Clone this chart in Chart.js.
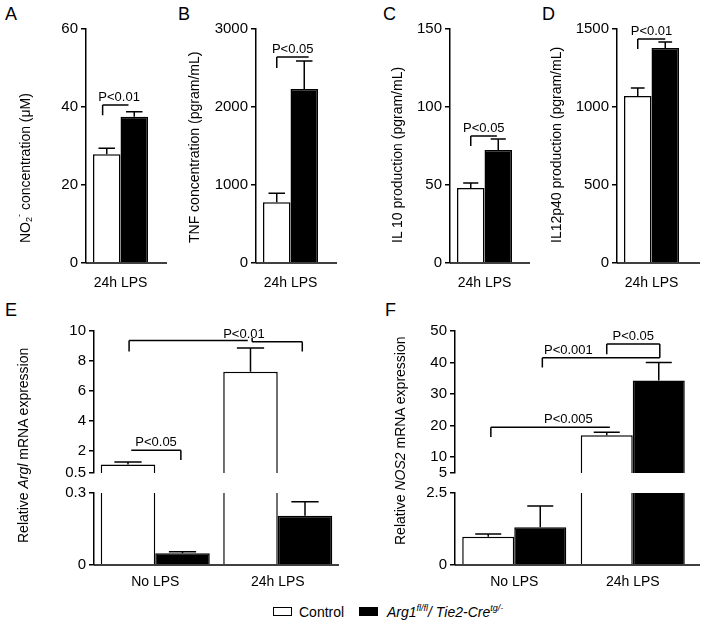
<!DOCTYPE html>
<html>
<head>
<meta charset="utf-8">
<script src="https://cdn.jsdelivr.net/npm/chart.js@4.4.1/dist/chart.umd.min.js"></script>
<style>
  body { margin: 0; background: #fff; }
  #fig { position: relative; width: 703px; height: 625px; overflow: hidden; font-family: "Liberation Sans", Arial, sans-serif; color: #000; }
  .panel { position: absolute; }
  .letter { position: absolute; font-size: 18px; line-height: 18px; }
  .ytitle { position: absolute; width: 16px; height: 260px; line-height: 16px; font-size: 14px;
            writing-mode: vertical-rl; transform: rotate(180deg); white-space: nowrap; z-index: 2; }
  .ytitle sub, .ytitle sup, #legend sup { font-size: 9px; line-height: 0; }
  #legend sup { vertical-align: baseline; position: relative; top: -0.7em; }
  .lbox { position: absolute; width: 19px; height: 9px; box-sizing: border-box; border: 1.5px solid #000; }
  .ltext { position: absolute; font-size: 14px; line-height: 16px; white-space: nowrap; }
</style>
</head>
<body>
<div id="fig">
  <div class="letter" style="left:5px; top:5px">A</div>
  <div class="letter" style="left:178px; top:5px">B</div>
  <div class="letter" style="left:383px; top:5px">C</div>
  <div class="letter" style="left:542px; top:5px">D</div>
  <div class="letter" style="left:5px; top:301px">E</div>
  <div class="letter" style="left:385px; top:301px">F</div>

  <div class="ytitle" style="left:17px; top:-17px">NO<sub>2</sub><sup>-</sup> concentration (&mu;M)</div>
  <div class="ytitle" style="left:186px; top:-17px">TNF concentration (pgram/mL)</div>
  <div class="ytitle" style="left:389px; top:-17px">IL 10 production (pgram/mL)</div>
  <div class="ytitle" style="left:548px; top:-17px">IL12p40 production (pgram/mL)</div>
  <div class="ytitle" style="left:15px; top:283px">Relative <i>Argl</i> mRNA expression</div>
  <div class="ytitle" style="left:392px; top:285px">Relative <i>NOS2</i> mRNA expression</div>

  <div id="legend">
    <div class="lbox" id="box0" style="left:273px; top:607px"></div>
    <div class="ltext" style="left:299px; top:604px">Control</div>
    <div class="lbox" id="box1" style="left:359px; top:607px"></div>
    <div class="ltext" style="left:387px; top:604px"><i>Arg1</i><sup><i>fl/fl</i></sup><i>/ Tie2-Cre</i><sup><i>tg/-</i></sup></div>
  </div>
</div>

<script>
Chart.defaults.font.family = '"Liberation Sans", Arial, sans-serif';
Chart.defaults.color = '#000';

// categories
const groupsTop = ['24h LPS'];
const groupsBottom = ['No LPS', '24h LPS'];
const seriesNames = ['Control', 'Arg1fl/fl / Tie2-Cretg/-'];
const seriesFill = ['#ffffff', '#000000'];

// A: NO2- concentration (uM)
const no2Ctrl = [27.9];
const no2CtrlSem = [1.5];
const no2Ko = [37.5];
const no2KoSem = [1.3];

// B: TNF (pgram/mL)
const tnfCtrl = [780];
const tnfCtrlSem = [115];
const tnfKo = [2230];
const tnfKoSem = [360];

// C: IL 10 (pgram/mL)
const il10Ctrl = [48.1];
const il10CtrlSem = [3.2];
const il10Ko = [72.4];
const il10KoSem = [7.1];

// D: IL12p40 (pgram/mL)
const il12Ctrl = [1071];
const il12CtrlSem = [51];
const il12Ko = [1378];
const il12KoSem = [38];

// E: relative Arg1 mRNA (No LPS, 24h LPS)
const argCtrl = [1.07, 7.27];
const argCtrlSem = [0.17, 1.6];
const argKo = [0.049, 0.205];
const argKoSem = [0.006, 0.059];

// F: relative NOS2 mRNA (No LPS, 24h LPS)
const nosCtrl = [0.98, 17.0];
const nosCtrlSem = [0.10, 0.9];
const nosKo = [1.31, 34.3];
const nosKoSem = [0.74, 5.7];

// tick labels
const ticksA = [0, 20, 40, 60];
const ticksB = [0, 1000, 2000, 3000];
const ticksC = [0, 50, 100, 150];
const ticksD = [0, 500, 1000, 1500];
const ticksEHigh = [0.5, 2, 4, 6, 8, 10];
const ticksELow = [0, 0.3];
const ticksFHigh = [5, 10, 20, 30, 40, 50];
const ticksFLow = [0, 2.5];

document.getElementById('box0').style.background = seriesFill[0];
document.getElementById('box1').style.background = seriesFill[1];

// error bars (upper only), significance brackets and baseline, one plugin per panel
function marksFor(p) {
    return {
        id: 'marks',
        afterDatasetsDraw(chart) {
            const ctx = chart.ctx;
            const area = chart.chartArea;
            const y = chart.scales.y;
            ctx.save();
            ctx.strokeStyle = '#000';
            ctx.lineWidth = 1.5;

            if (p.showX) {
                ctx.beginPath();
                ctx.moveTo(area.left, area.bottom);
                ctx.lineTo(area.right + (p.baseExt || 0), area.bottom);
                ctx.stroke();
            }

            ctx.save();
            ctx.beginPath();
            ctx.rect(area.left, area.top - 1, area.right - area.left, area.bottom - area.top + 1);
            ctx.clip();
            const errs = [p.ctrlErr, p.koErr];
            const vals = [p.ctrl, p.ko];
            errs.forEach((list, i) => {
                const meta = chart.getDatasetMeta(i);
                list.forEach((e, j) => {
                    const bar = meta.data[j];
                    if (!bar) return;
                    const top = y.getPixelForValue(vals[i][j] + e);
                    const half = bar.width * p.cap / 2;
                    ctx.beginPath();
                    ctx.moveTo(bar.x, bar.y);
                    ctx.lineTo(bar.x, top);
                    ctx.moveTo(bar.x - half, top);
                    ctx.lineTo(bar.x + half, top);
                    ctx.stroke();
                });
            });
            ctx.restore();

            const barX = (ref) => {
                const bar = chart.getDatasetMeta(ref[1]).data[ref[0]];
                return bar.x + (ref[2] || 0) * bar.width;
            };
            ctx.font = '13px "Liberation Sans", Arial, sans-serif';
            ctx.fillStyle = '#000';
            ctx.textAlign = 'center';
            ctx.textBaseline = 'alphabetic';
            (p.brackets || []).forEach(b => {
                const xa = barX(b.a), xb = barX(b.b);
                const yl = y.getPixelForValue(b.y);
                ctx.beginPath();
                ctx.moveTo(xa, yl);
                ctx.lineTo(xb, yl);
                if (b.dropA != null) {
                    ctx.moveTo(xa, yl);
                    ctx.lineTo(xa, y.getPixelForValue(b.dropA));
                }
                if (b.dropB != null) {
                    ctx.moveTo(xb, yl);
                    ctx.lineTo(xb, y.getPixelForValue(b.dropB));
                }
                if (b.riseA != null) {
                    ctx.moveTo(xa, yl);
                    ctx.lineTo(xa, y.getPixelForValue(b.riseA));
                }
                ctx.stroke();
                if (b.label) {
                    const lx = b.at ? barX(b.at) : (xa + xb) / 2;
                    ctx.fillText(b.label, lx, yl - 4);
                }
            });
            ctx.restore();
        }
    };
}

function makePanel(p) {
    const yW = 60;
    const xH = p.showX ? 32 : 0;
    const pl = 2, pt = 12;
    const pr = Math.max(6, (p.baseExt || 0) + 3);
    const pb = p.showX ? 2 : 9;
    const left = p.area.left - yW - pl;
    const top = p.area.top - pt;

    const box = document.createElement('div');
    box.className = 'panel';
    box.style.left = left + 'px';
    box.style.top = top + 'px';
    box.style.width = (p.area.right + pr - left) + 'px';
    box.style.height = (p.area.bottom + xH + pb - top) + 'px';
    const cv = document.createElement('canvas');
    box.appendChild(cv);
    document.getElementById('fig').appendChild(box);

    new Chart(cv, {
        type: 'bar',
        data: {
            labels: p.labels,
            datasets: [{
                label: seriesNames[0],
                data: p.ctrl,
                backgroundColor: seriesFill[0],
                borderColor: '#000',
                borderWidth: 1.5,
                clip: 0
            }, {
                label: seriesNames[1],
                data: p.ko,
                backgroundColor: seriesFill[1],
                borderColor: '#000',
                borderWidth: 1.5,
                clip: 0
            }]
        },
        options: {
            responsive: true,
            maintainAspectRatio: false,
            animation: false,
            events: [],
            layout: { padding: { left: pl, top: pt, right: pr, bottom: pb } },
            datasets: { bar: { categoryPercentage: p.catPct, barPercentage: 1 } },
            plugins: {
                legend: { display: false },
                tooltip: { enabled: false }
            },
            scales: {
                x: {
                    display: p.showX,
                    grid: { display: false, drawTicks: false },
                    border: { display: false },
                    ticks: { font: { size: 14 }, color: '#000', padding: p.xPad || 10, maxRotation: 0 },
                    afterFit: s => { s.height = xH; }
                },
                y: {
                    min: p.ticks[0],
                    max: p.ticks[p.ticks.length - 1],
                    border: { display: true, color: '#000', width: 1.5 },
                    grid: { drawOnChartArea: false, drawTicks: true, tickLength: 5, color: '#000', lineWidth: 1.5 },
                    ticks: { font: { size: 15 }, color: '#000', padding: 3, callback: v => String(v) },
                    afterBuildTicks: s => { s.ticks = p.ticks.map(v => ({ value: v })); },
                    afterFit: s => { s.width = yW; }
                }
            }
        },
        plugins: [marksFor(p)]
    });
}

const topPct = 0.797;

makePanel({
    area: { left: 86, top: 29, right: 155, bottom: 263 }, baseExt: 12, showX: true, xPad: 12,
    labels: groupsTop, ctrl: no2Ctrl, ctrlErr: no2CtrlSem, ko: no2Ko, koErr: no2KoSem,
    ticks: ticksA, catPct: topPct, cap: 0.6,
    brackets: [{ a: [0, 0, -0.15], b: [0, 1, -0.21], y: 40.5, dropA: 37.9, label: 'P<0.01', at: [0, 1, -0.55] }]
});

makePanel({
    area: { left: 256, top: 29, right: 325, bottom: 263 }, baseExt: 12, showX: true, xPad: 12,
    labels: groupsTop, ctrl: tnfCtrl, ctrlErr: tnfCtrlSem, ko: tnfKo, koErr: tnfKoSem,
    ticks: ticksB, catPct: topPct, cap: 0.6,
    brackets: [{ a: [0, 0, 0], b: [0, 1, 0.16], y: 2640, dropA: 2500, label: 'P<0.05' }]
});

makePanel({
    area: { left: 450, top: 29, right: 519, bottom: 263 }, baseExt: 11, showX: true, xPad: 12,
    labels: groupsTop, ctrl: il10Ctrl, ctrlErr: il10CtrlSem, ko: il10Ko, koErr: il10KoSem,
    ticks: ticksC, catPct: topPct, cap: 0.55,
    brackets: [{ a: [0, 0, 0], b: [0, 1, -0.05], y: 81.4, dropA: 75, label: 'P<0.05' }]
});

makePanel({
    area: { left: 617, top: 29, right: 686, bottom: 263 }, baseExt: 14, showX: true, xPad: 12,
    labels: groupsTop, ctrl: il12Ctrl, ctrlErr: il12CtrlSem, ko: il12Ko, koErr: il12KoSem,
    ticks: ticksD, catPct: topPct, cap: 0.5,
    brackets: [{ a: [0, 0, 0], b: [0, 1, 0], y: 1436, dropA: 1372, label: 'P<0.01' }]
});

// E, broken axis: upper and lower segments
makePanel({
    area: { left: 94, top: 331, right: 339, bottom: 476 }, showX: false,
    labels: groupsBottom, ctrl: argCtrl, ctrlErr: argCtrlSem, ko: argKo, koErr: argKoSem,
    ticks: ticksEHigh, catPct: 0.89, cap: 0.5,
    brackets: [
        { a: [0, 0, 0.02], b: [1, 0, -0.05], y: 9.37, dropA: 8.63 },
        { a: [1, 0, 0.03], b: [1, 1, -0.05], y: 9.28, dropB: 8.63, riseA: 9.55, label: 'P<0.01', at: [1, 0, -0.12] },
        { a: [0, 0, 0.06], b: [0, 1, -0.03], y: 2.03, dropB: 1.37, label: 'P<0.05' }
    ]
});
makePanel({
    area: { left: 94, top: 493, right: 339, bottom: 565 }, showX: true, xPad: 9, baseExt: 0,
    labels: groupsBottom, ctrl: argCtrl, ctrlErr: argCtrlSem, ko: argKo, koErr: argKoSem,
    ticks: ticksELow, catPct: 0.89, cap: 0.5
});

// F, broken axis: upper and lower segments
makePanel({
    area: { left: 455, top: 331, right: 692, bottom: 476 }, showX: false,
    labels: groupsBottom, ctrl: nosCtrl, ctrlErr: nosCtrlSem, ko: nosKo, koErr: nosKoSem,
    ticks: ticksFHigh, catPct: 0.878, cap: 0.5,
    brackets: [
        { a: [0, 0, 0.05], b: [1, 0, 0.06], y: 19.5, dropA: 16.4, label: 'P<0.005', at: [0, 1, 0.54] },
        { a: [0, 1, 0.04], b: [1, 1, 0.02], y: 41.5, dropA: 38.4, label: 'P<0.001', at: [0, 1, 0.54] },
        { a: [1, 0, 0], b: [1, 1, 0.02], y: 45.9, dropA: 42.6, dropB: 41.5, label: 'P<0.05' }
    ]
});
makePanel({
    area: { left: 455, top: 493, right: 692, bottom: 565 }, showX: true, xPad: 9, baseExt: 8,
    labels: groupsBottom, ctrl: nosCtrl, ctrlErr: nosCtrlSem, ko: nosKo, koErr: nosKoSem,
    ticks: ticksFLow, catPct: 0.878, cap: 0.5
});
</script>
</body>
</html>
